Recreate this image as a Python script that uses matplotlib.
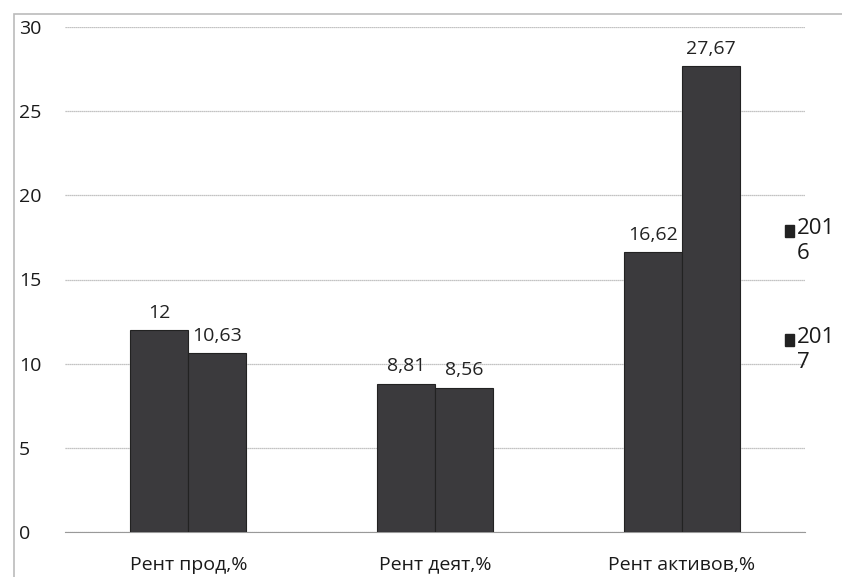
import matplotlib.pyplot as plt
import numpy as np
from matplotlib.patches import Rectangle

plt.rcParams['font.family'] = ['Open Sans', 'DejaVu Sans']

categories = ['Рент прод,%', 'Рент деят,%', 'Рент активов,%']
years = ['2016', '2017']
vals_2016 = [12, 8.81, 16.62]
vals_2017 = [10.63, 8.56, 27.67]
labels_2016 = ['12', '8,81', '16,62']
labels_2017 = ['10,63', '8,56', '27,67']

fs = 14
fig = plt.figure(figsize=(8.42, 5.77), dpi=100)
ax = fig.add_axes([65 / 842, 1 - 532 / 577, 740 / 842, 505 / 577])

x = np.arange(len(categories))
w = 0.235
bar_color = '#3b3a3d'
b1 = ax.bar(x - w / 2, vals_2016, w, color=bar_color, edgecolor='#222222', lw=0.8, zorder=3)
b2 = ax.bar(x + w / 2, vals_2017, w, color=bar_color, edgecolor='#222222', lw=0.8, zorder=3)

for rect, lab in zip(b1, labels_2016):
    ax.text(rect.get_x() + rect.get_width() / 2, rect.get_height() + 0.5, lab,
            ha='center', va='bottom', fontsize=fs, color='#222222')
for rect, lab in zip(b2, labels_2017):
    ax.text(rect.get_x() + rect.get_width() / 2, rect.get_height() + 0.5, lab,
            ha='center', va='bottom', fontsize=fs, color='#222222')

ax.set_xlim(-0.5, 2.5)
ax.set_ylim(0, 30)
ax.set_yticks(range(0, 31, 5))
ax.set_xticks(x)
ax.set_xticklabels(categories)
ax.yaxis.grid(True, color='#b0b0b0', lw=0.9, ls=(0, (1, 0.6)))
ax.set_axisbelow(True)
for s in ['top', 'right', 'left']:
    ax.spines[s].set_visible(False)
ax.spines['bottom'].set_color('#999999')
ax.tick_params(axis='both', length=0, labelsize=fs, colors='#1a1a1a')
ax.tick_params(axis='y', pad=33)
for t in ax.get_yticklabels():
    t.set_horizontalalignment('left')
ax.tick_params(axis='x', pad=17)

# legend drawn as wrapped text next to the plot
for yy, yr in [(218, years[0]), (327, years[1])]:
    fig.patches.append(Rectangle((785 / 842, 1 - (yy + 19) / 577), 9 / 842, 12 / 577,
                                 transform=fig.transFigure, color='#222222'))
    fig.text(797 / 842, 1 - yy / 577, yr[:3] + '\n' + yr[3:], fontsize=16,
             color='#1a1a1a', va='top', ha='left', linespacing=1.25)

# outer chart frame
fig.patches.append(Rectangle((14 / 842, -0.01), 0.99, 1 - 14 / 577 + 0.01,
                             transform=fig.transFigure, fill=False,
                             edgecolor='#bbbbbb', lw=1.2))

fig.savefig('out.png', dpi=100)
